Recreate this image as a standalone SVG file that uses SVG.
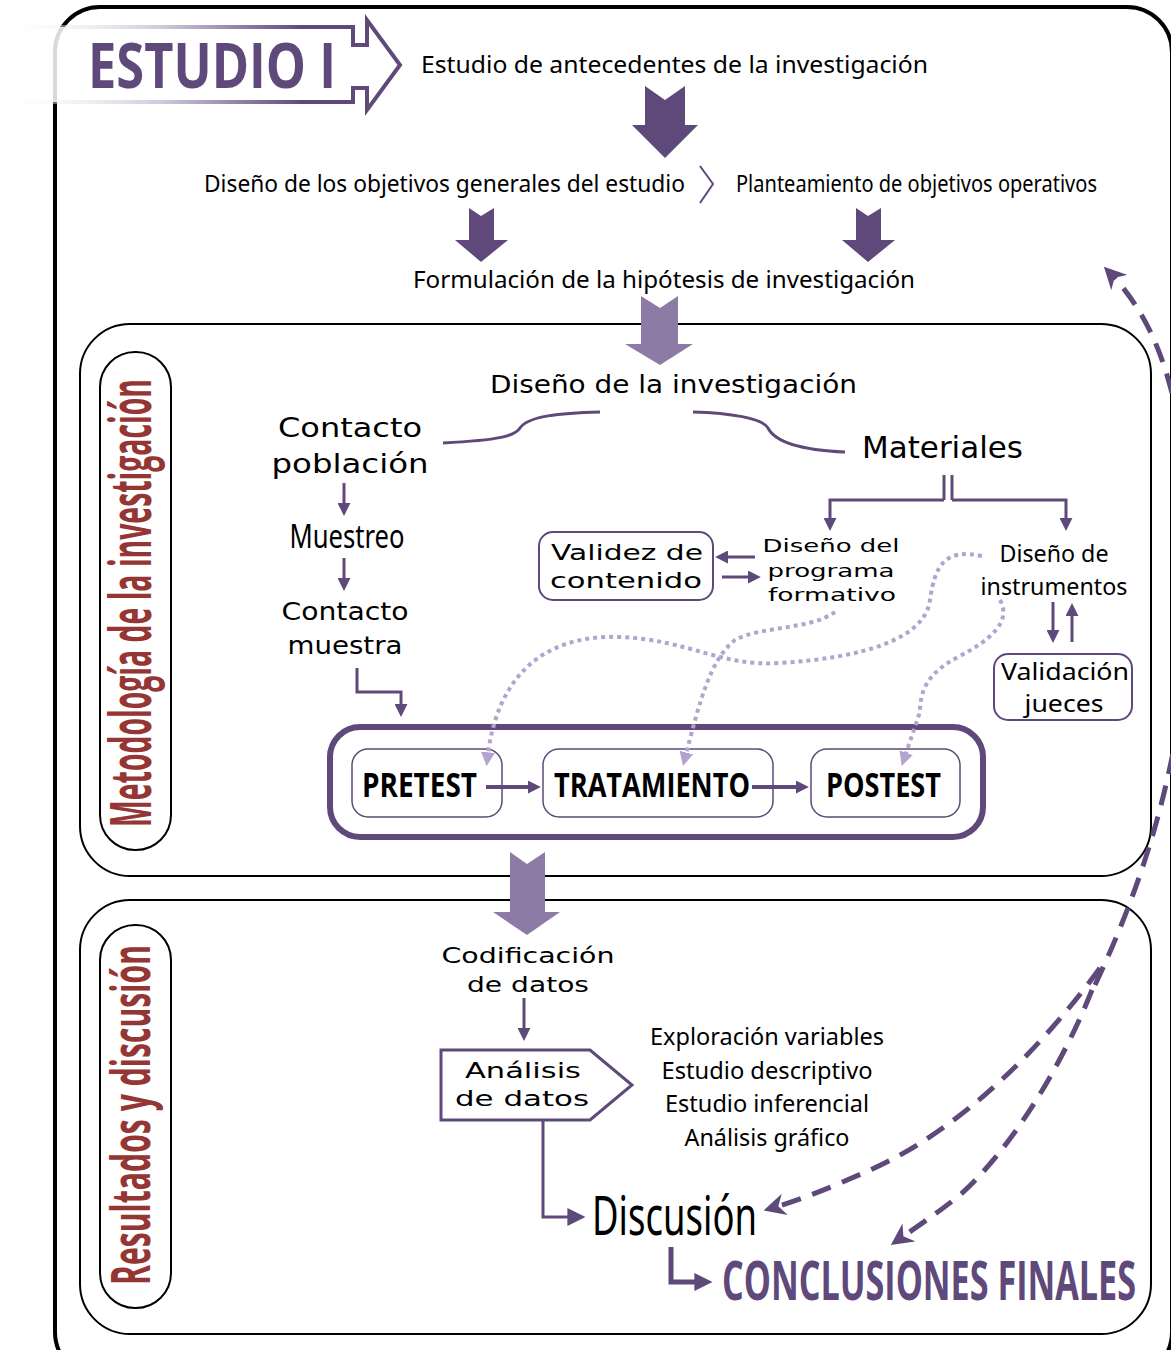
<svg xmlns="http://www.w3.org/2000/svg" width="1171" height="1350" viewBox="0 0 1171 1350">
<defs>
<style>
.cal{font-family:"Noto Sans","Open Sans","Liberation Sans",sans-serif;fill:#000}
.wide{font-family:"DejaVu Sans","Liberation Sans",sans-serif;fill:#000}
.bold{font-family:"Open Sans","Liberation Sans",sans-serif;font-weight:bold}
.frame{fill:none;stroke:#000;stroke-width:2}
.pbox{fill:#fff;stroke:#5f497a;stroke-width:2}
.pl{fill:none;stroke:#5f497a;stroke-width:3}
.dot{fill:none;stroke:#b3a3cf;stroke-width:4;stroke-dasharray:4 4}
.dash{fill:none;stroke:#5f497a;stroke-width:5;stroke-dasharray:20 12}
.blk{fill:#5f497a}
.lite{fill:#8d7ba6}
.side{font-family:"Open Sans","Liberation Sans",sans-serif;font-weight:bold;fill:#943634}
</style>
<linearGradient id="bg" gradientUnits="userSpaceOnUse" x1="8" y1="0" x2="400" y2="0">
<stop offset="0" stop-color="#ffffff" stop-opacity="0.2"/>
<stop offset="0.4" stop-color="#cfc6da"/>
<stop offset="0.75" stop-color="#5f497a"/>
<stop offset="1" stop-color="#5f497a"/>
</linearGradient>
<marker id="ah" viewBox="0 0 10 10" refX="7" refY="5" markerWidth="13" markerHeight="13" markerUnits="userSpaceOnUse" orient="auto">
<path d="M0,0 L10,5 L0,10 z" fill="#5f497a"/>
</marker>
<marker id="ahL" viewBox="0 0 10 10" refX="7" refY="5" markerWidth="18" markerHeight="18" markerUnits="userSpaceOnUse" orient="auto">
<path d="M0,0 L10,5 L0,10 z" fill="#5f497a"/>
</marker>
<marker id="ahd" viewBox="0 0 10 10" refX="7" refY="5" markerWidth="14" markerHeight="14" markerUnits="userSpaceOnUse" orient="auto">
<path d="M0,0 L10,5 L0,10 z" fill="#b3a3cf"/>
</marker>
<marker id="ahb" viewBox="0 0 10 10" refX="6" refY="5" markerWidth="22" markerHeight="22" markerUnits="userSpaceOnUse" orient="auto">
<path d="M0,0 L10,5 L0,10 L3,5 z" fill="#5f497a"/>
</marker>
</defs>
<rect width="1171" height="1350" fill="#fff"/>

<g id="frames">
<rect x="55" y="7" width="1117" height="1370" rx="45" fill="none" stroke="#000" stroke-width="4"/>
<rect class="frame" x="80" y="324" width="1071" height="552" rx="50"/>
<rect class="frame" x="80" y="900" width="1071" height="434" rx="50"/>
<rect class="frame" x="100" y="352" width="71" height="498" rx="35"/>
<rect class="frame" x="100" y="925" width="71" height="383" rx="35"/>
<text class="side" font-size="57" transform="translate(151,603) rotate(-90)" text-anchor="middle" textLength="448" lengthAdjust="spacingAndGlyphs">Metodología de la investigación</text>
<text class="side" font-size="54" transform="translate(150,1115) rotate(-90)" text-anchor="middle" textLength="340" lengthAdjust="spacingAndGlyphs">Resultados y discusión</text>
</g>

<g id="estudio">
<path d="M8,27 H353 V45 H367 V20 L400,65 L367,110 V88 H353 V102 H8 Z" fill="#fff" fill-opacity="0.85" stroke="url(#bg)" stroke-width="4"/>
<text class="bold" x="88" y="88" font-size="62" fill="#5f497a" textLength="248" lengthAdjust="spacingAndGlyphs">ESTUDIO I</text>
</g>

<g id="antecedentes"><text class="cal" x="421" y="73" font-size="24" textLength="507" lengthAdjust="spacingAndGlyphs">Estudio de antecedentes de la investigación</text></g>
<g id="objetivos-generales"><text class="cal" x="204" y="192" font-size="24" textLength="481" lengthAdjust="spacingAndGlyphs">Diseño de los objetivos generales del estudio</text></g>
<g id="objetivos-operativos"><text class="cal" x="736" y="192" font-size="24" textLength="361" lengthAdjust="spacingAndGlyphs">Planteamiento de objetivos operativos</text></g>
<g id="hipotesis"><text class="cal" x="413" y="288" font-size="24" textLength="502" lengthAdjust="spacingAndGlyphs">Formulación de la hipótesis de investigación</text></g>
<g id="diseno-investigacion"><text class="wide" x="490" y="393" font-size="25" textLength="367" lengthAdjust="spacingAndGlyphs">Diseño de la investigación</text></g>
<g id="contacto-poblacion">
<text class="wide" x="350" y="437" font-size="26" text-anchor="middle" textLength="144" lengthAdjust="spacingAndGlyphs">Contacto</text>
<text class="wide" x="350" y="473" font-size="26" text-anchor="middle" textLength="157" lengthAdjust="spacingAndGlyphs">población</text>
</g>
<g id="materiales"><text class="wide" x="862" y="458" font-size="31" textLength="161" lengthAdjust="spacingAndGlyphs">Materiales</text></g>
<g id="muestreo"><text class="cal" x="347" y="548" font-size="33" text-anchor="middle" textLength="115" lengthAdjust="spacingAndGlyphs">Muestreo</text></g>
<g id="contacto-muestra">
<text class="wide" x="345" y="620" font-size="24" text-anchor="middle" textLength="127" lengthAdjust="spacingAndGlyphs">Contacto</text>
<text class="wide" x="345" y="654" font-size="24" text-anchor="middle" textLength="115" lengthAdjust="spacingAndGlyphs">muestra</text>
</g>
<g id="validez">
<rect class="pbox" x="539" y="532" width="174" height="68" rx="14"/>
<text class="wide" x="627" y="560" font-size="21" text-anchor="middle" textLength="152" lengthAdjust="spacingAndGlyphs">Validez de</text>
<text class="wide" x="626" y="588" font-size="21" text-anchor="middle" textLength="152" lengthAdjust="spacingAndGlyphs">contenido</text>
</g>
<g id="programa">
<text class="wide" x="831" y="552" font-size="18" text-anchor="middle" textLength="137" lengthAdjust="spacingAndGlyphs">Diseño del</text>
<text class="wide" x="831" y="577" font-size="18" text-anchor="middle" textLength="127" lengthAdjust="spacingAndGlyphs">programa</text>
<text class="wide" x="832" y="601" font-size="18" text-anchor="middle" textLength="128" lengthAdjust="spacingAndGlyphs">formativo</text>
</g>
<g id="instrumentos">
<text class="cal" x="1054" y="562" font-size="23" text-anchor="middle" textLength="109" lengthAdjust="spacingAndGlyphs">Diseño de</text>
<text class="cal" x="1054" y="595" font-size="23" text-anchor="middle" textLength="147" lengthAdjust="spacingAndGlyphs">instrumentos</text>
</g>
<g id="validacion">
<rect class="pbox" x="994" y="654" width="138" height="66" rx="14"/>
<text class="cal" x="1065" y="680" font-size="23" text-anchor="middle" textLength="128" lengthAdjust="spacingAndGlyphs">Validación</text>
<text class="cal" x="1064" y="712" font-size="23" text-anchor="middle" textLength="79" lengthAdjust="spacingAndGlyphs">jueces</text>
</g>
<g id="diseno-grupo">
<rect x="330" y="727" width="653" height="110" rx="30" fill="none" stroke="#5f497a" stroke-width="6"/>
</g>
<g id="pretest">
<rect x="352" y="749" width="150" height="68" rx="16" fill="#fff" stroke="#5f497a" stroke-width="1.5"/>
<text class="bold" x="362" y="797" font-size="34" fill="#000" textLength="115" lengthAdjust="spacingAndGlyphs">PRETEST</text>
</g>
<g id="tratamiento">
<rect x="543" y="749" width="230" height="68" rx="16" fill="#fff" stroke="#5f497a" stroke-width="1.5"/>
<text class="bold" x="554" y="797" font-size="34" fill="#000" textLength="196" lengthAdjust="spacingAndGlyphs">TRATAMIENTO</text>
</g>
<g id="postest">
<rect x="811" y="749" width="149" height="68" rx="16" fill="#fff" stroke="#5f497a" stroke-width="1.5"/>
<text class="bold" x="826" y="797" font-size="34" fill="#000" textLength="115" lengthAdjust="spacingAndGlyphs">POSTEST</text>
</g>
<g id="codificacion">
<text class="wide" x="528" y="963" font-size="21" text-anchor="middle" textLength="173" lengthAdjust="spacingAndGlyphs">Codificación</text>
<text class="wide" x="528" y="992" font-size="21" text-anchor="middle" textLength="122" lengthAdjust="spacingAndGlyphs">de datos</text>
</g>
<g id="analisis">
<path d="M441,1050 H590 L632,1085 L590,1120 H441 Z" fill="#fff" stroke="#5f497a" stroke-width="3"/>
<text class="wide" x="523" y="1078" font-size="21" text-anchor="middle" textLength="116" lengthAdjust="spacingAndGlyphs">Análisis</text>
<text class="wide" x="522" y="1106" font-size="21" text-anchor="middle" textLength="134" lengthAdjust="spacingAndGlyphs">de datos</text>
</g>
<g id="analisis-lista">
<text class="cal" x="767" y="1045" font-size="24" text-anchor="middle" textLength="234" lengthAdjust="spacingAndGlyphs">Exploración variables</text>
<text class="cal" x="767" y="1079" font-size="24" text-anchor="middle" textLength="211" lengthAdjust="spacingAndGlyphs">Estudio descriptivo</text>
<text class="cal" x="767" y="1112" font-size="24" text-anchor="middle" textLength="204" lengthAdjust="spacingAndGlyphs">Estudio inferencial</text>
<text class="cal" x="767" y="1146" font-size="24" text-anchor="middle" textLength="165" lengthAdjust="spacingAndGlyphs">Análisis gráfico</text>
</g>
<g id="discusion"><text class="cal" x="592" y="1235" font-size="54" textLength="165" lengthAdjust="spacingAndGlyphs">Discusión</text></g>
<g id="conclusiones"><text class="bold" x="722" y="1300" font-size="54" fill="#5f497a" textLength="414" lengthAdjust="spacingAndGlyphs">CONCLUSIONES FINALES</text></g>

<g id="connectors">
<path class="blk" d="M645,86 L665,100 L685,86 V125 H698 L665,158 L632,125 H645 Z"/>
<path d="M700,166 L713,184 L700,203" fill="none" stroke="#5f497a" stroke-width="2"/>
<path class="blk" d="M469,208 L481,216 L494,208 V240 H508 L481,262 L455,240 H469 Z"/>
<path class="blk" d="M856,208 L868,216 L881,208 V240 H895 L868,262 L842,240 H856 Z"/>
<path class="lite" d="M641,296 L660,308 L678,296 V344 H693 L660,365 L625,344 H641 Z"/>
<path class="lite" d="M510,852 L527,864 L545,852 V912 H560 L527,935 L493,912 H510 Z"/>
<path class="pl" d="M443,443 C500,440 515,436 520,428 C528,416 560,413 600,412"/>
<path class="pl" d="M693,412 C730,413 762,418 768,428 C775,442 800,450 845,452"/>
<line class="pl" x1="344" y1="483" x2="344" y2="512" marker-end="url(#ah)"/>
<line class="pl" x1="344" y1="558" x2="344" y2="587" marker-end="url(#ah)"/>
<path class="pl" d="M357,668 V692 H401 V713" marker-end="url(#ah)"/>
<line class="pl" x1="944" y1="475" x2="944" y2="500"/>
<line class="pl" x1="952" y1="475" x2="952" y2="500"/>
<path class="pl" d="M944,500 H830 V527" marker-end="url(#ah)"/>
<path class="pl" d="M952,500 H1066 V527" marker-end="url(#ah)"/>
<line class="pl" x1="755" y1="557" x2="719" y2="557" marker-end="url(#ah)"/>
<line class="pl" x1="722" y1="577" x2="757" y2="577" marker-end="url(#ah)"/>
<line class="pl" x1="1053" y1="602" x2="1053" y2="639" marker-end="url(#ah)"/>
<line class="pl" x1="1072" y1="642" x2="1072" y2="607" marker-end="url(#ah)"/>
<line x1="486" y1="787" x2="537" y2="787" stroke="#5f497a" stroke-width="4" marker-end="url(#ah)"/>
<line x1="752" y1="787" x2="805" y2="787" stroke="#5f497a" stroke-width="4" marker-end="url(#ah)"/>
<path class="dot" d="M982,556 C945,548 935,565 930,600 C925,640 860,658 780,663 C720,667 690,640 620,637 C540,634 495,680 487,762" marker-end="url(#ahd)"/>
<path class="dot" d="M835,612 C810,630 760,626 735,640 C710,660 700,700 684,762" marker-end="url(#ahd)"/>
<path class="dot" d="M1000,600 C1012,622 990,640 960,656 C928,672 920,690 920,712 L903,762" marker-end="url(#ahd)"/>
<line class="pl" x1="524" y1="998" x2="524" y2="1037" marker-end="url(#ah)"/>
<path class="pl" d="M543,1120 V1217 H580" marker-end="url(#ahL)"/>
<path d="M671,1247 V1282 H707" fill="none" stroke="#5f497a" stroke-width="5" marker-end="url(#ahL)"/>
<path class="dash" d="M1095,985 C1135,900 1190,760 1190,580 C1190,420 1165,330 1110,273" marker-end="url(#ahb)"/>
<path class="dash" d="M1100,968 C1040,1050 960,1130 870,1170 C830,1188 800,1200 772,1208" marker-end="url(#ahb)"/>
<path class="dash" d="M1092,990 C1060,1070 1010,1150 960,1195 C935,1215 915,1228 898,1240" marker-end="url(#ahb)"/>
</g>
</svg>
